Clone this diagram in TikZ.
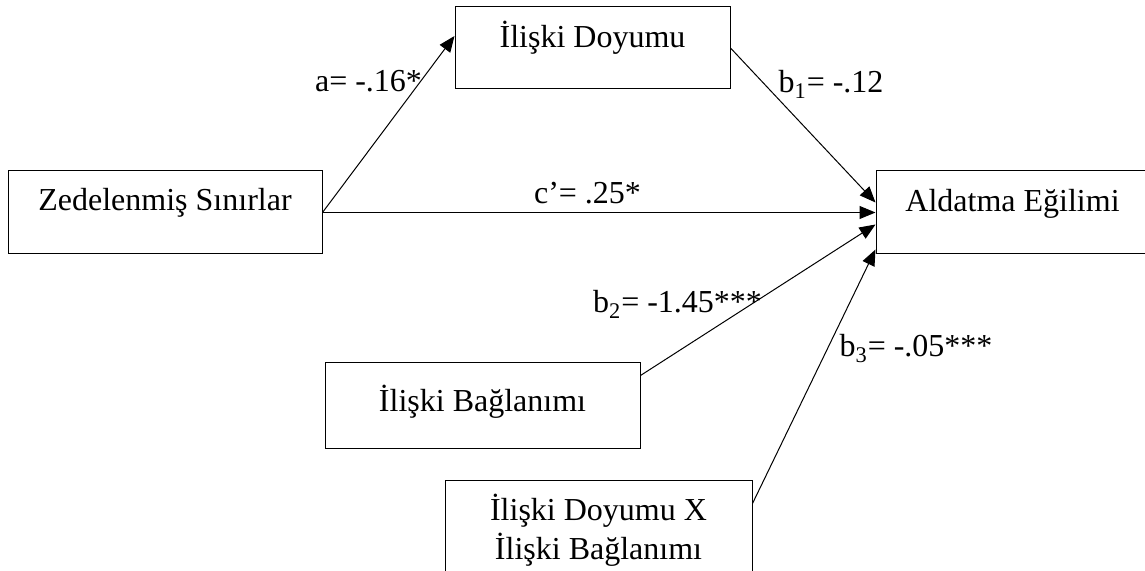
\documentclass[tikz,border=0pt]{standalone}
\usepackage{fontspec}
\setmainfont{Liberation Serif}
\usetikzlibrary{arrows.meta,positioning}

\begin{document}
\begin{tikzpicture}[x=0.5pt, y=-0.5pt, line width=0.5pt, font=\fontsize{16}{19.5}\selectfont, box/.style={
% The shape:
rectangle,
% The size:
inner xsep=0pt, inner ysep=0pt, text height=20pt, text depth=21.5pt,
% The border:
draw=black
}, link/.style={-{Triangle[length=8pt,width=6.5pt]}}, coef/.style={anchor=base}]

\useasboundingbox (0,0) rectangle (1145,571);

	\node (ZS) [box, minimum width=157pt] at (165,212.5) {Zedelenmiş Sınırlar};
	\node (ID) [box, minimum width=137.5pt, text height=20.5pt, text depth=20.5pt, above right=40.5pt and 66pt of ZS] {İlişki Doyumu};
	\node (AE) [box, minimum width=136.5pt, text height=20.5pt, text depth=21pt, right=276.5pt of ZS] {Aldatma Eğilimi};
	\node (IB) [box, minimum width=157.5pt, text height=24pt, text depth=18.5pt, below right=54pt and 1pt of ZS] {İlişki Bağlanımı};
	\node (IX) [box, align=center, minimum width=153.5pt, text height=39.5pt, text depth=25pt, below=15.5pt of IB, xshift=58pt] {İlişki Doyumu X\\İlişki Bağlanımı};

	\draw [link] (ZS.east) -- ([yshift=6pt]ID.west);
	\draw [link] (ID.east) -- ([yshift=5pt]AE.west);
	\draw [link] (ZS.east) -- (AE.west);
	\draw [link] ([yshift=15pt]IB.east) -- ([yshift=-6pt]AE.west);
	\draw [link] ([yshift=-12pt]IX.north east) -- ([yshift=-18.5pt]AE.west);

	\node (la) [coef] at (368.5,92) {a= -.16*};
	\node (lb1) [coef] at (831,93) {b\textsubscript{1}= -.12};
	\node (lc) [coef] at (587.5,204) {c’= .25*};
	\node (lb2) [coef] at (677.5,313) {b\textsubscript{2}= -1.45***};
	\node (lb3) [coef] at (916,357) {b\textsubscript{3}= -.05***};
\end{tikzpicture}
\end{document}
